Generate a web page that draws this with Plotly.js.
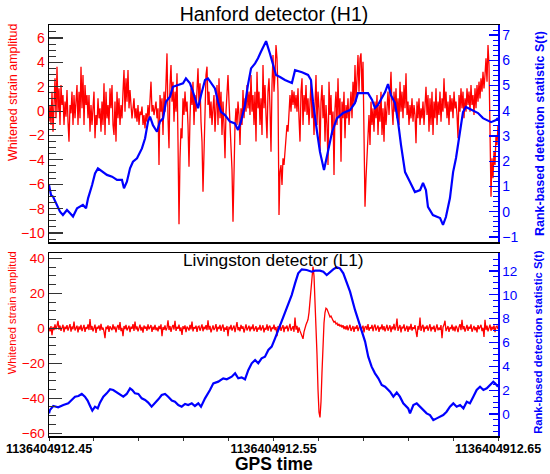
<!DOCTYPE html>
<html>
<head>
<meta charset="utf-8">
<script src="https://cdn.plot.ly/plotly-3.0.1.min.js"></script>
<style>html,body{margin:0;padding:0;background:#fff;}#chart{width:550px;height:474px;}</style>
</head>
<body>
<div id="chart"></div>
<script>
// ---- Data ----
// times are seconds of GPS 1136404912.xxxx (fractional part)
const tStart = 0.45;
const tEnd = 0.65;

// H1 whitened strain, sampled uniformly from tStart to tEnd
const h1Strain = [
-0.86, 0.50, -1.14, 1.60, -1.68, 0.78, 2.69, -0.59, 3.65, -0.04,
1.87, -1.14, 2.14, 0.50, 1.32, -1.14, 0.78, -0.45, 1.73, -0.86,
-2.50, 0.50, -0.18, 1.60, -1.14, 1.32, -0.59, 0.78, 2.14, -1.14,
1.60, -0.59, 3.65, 0.23, 2.96, -1.14, 2.14, 0.50, 1.32, -0.59,
1.32, -1.68, 0.50, -1.14, -0.04, 1.60, -2.23, -0.32, -1.14, 1.05,
-0.59, 0.23, -1.68, 0.78, -1.14, 2.28, -1.96, 1.60, -0.59, 0.50,
-1.14, 1.87, 0.23, 2.14, -1.14, -1.96, 0.78, -2.50, 1.60, -0.59,
1.05, -1.14, 0.50, -0.59, 1.60, 3.37, -0.04, 2.69, 0.78, 3.37,
0.23, 1.73, 0.50, -0.59, 0.23, 1.05, -0.59, 0.23, -0.86, 0.50,
-1.14, -0.04, -0.32, 0.37, -1.14, -0.32, -1.41, -0.18, -0.86, 0.50,
-0.59, 1.60, 2.42, -0.04, 0.50, -0.32, 0.23, 0.78, -0.59, 0.23,
-4.42, 1.32, -0.04,
1.05, -1.96, 1.60, -0.04, 2.96, 4.74, -0.59, -3.05, 2.14, 3.78,
0.78, 2.42, -0.86, 1.60, -0.04, 3.10, -2.50, -9.29, -3.87, -1.41,
-2.23, 1.05, -0.32, 1.60, -0.04, 0.78, -1.14, -4.56, -0.59, 1.87,
0.50, 2.42, -1.14, 1.32, -0.04, 2.69, 3.51, 0.50, 2.28, -0.86,
-2.50, -6.61, -3.33, 1.05, 2.96, 3.65, 0.50, 1.60, -0.59, 0.78,
-1.14, 0.23, 1.32, -1.68, 0.23, 2.14, -1.14, 2.69, -0.59, 1.60,
-1.96, 0.78, -1.14, -3.87, -0.04, 2.14, 2.96, 0.78, -1.14, -2.78,
-4.80, -9.07, -3.60, -1.14, 0.23, -1.14, 0.78, -0.32, -2.78, 0.23,
-1.14, 1.73, -0.59, 1.05, -0.04, 2.14, 0.23, 1.60, -0.32, 2.96,
-0.04, 1.32, -1.14, 1.60, -2.50, 3.24, 0.23, 1.60, -1.14, 1.05,
-1.96, 3.78, 0.23, 2.14, -0.32, -2.23, 1.60, 2.69, 0.23, -3.33,
2.14, 4.60, 1.60,
2.96, 5.43, 4.33, 1.60, -8.52, -4.97, -4.42, -6.06, -3.87, -4.42,
-3.33, -2.23, -1.14, -1.68, 0.50, 1.32, -0.04, 1.73, 0.50, 1.60,
0.23, 1.32, -0.04, 1.87, -0.59, -2.50, 1.60, 2.69, -1.14, 1.32,
-0.04, 2.14, -0.32, 1.05, -1.14, 0.78, 2.42, -0.59, 0.78, -1.96,
1.60, 2.96, -1.14, 1.60, 0.23, -3.33, 0.78, 2.14, -0.59, 1.32,
-2.50, 0.50, -1.14, -4.42, 2.42, -0.32, 1.32, -1.96, -0.04, -5.24,
0.23, 1.60, -1.14, 2.69, -0.59, 1.05, -4.15, 0.78, -0.59, 1.60,
-2.23, 0.50, -0.59, 1.05, -1.14, 0.23, 1.60, -0.59, 2.42, 0.50,
3.78, 0.78, 2.96, 4.60, 1.60, 4.33, 4.74, 1.60, 4.06, -1.14,
-7.84, -5.51, -3.33, -2.23, -0.32, -2.78, 0.78, -1.14, 0.23, -1.68,
0.78, -0.59, 1.32, -1.96, 0.50, -0.86, 1.60, -1.96, 0.23, -2.50,
0.78, -1.14, -0.04,
1.60, -0.32, 2.14, 3.24, 0.23, -1.14, 1.60, -0.04, 1.87, -0.59,
1.05, -1.14, 2.42, -0.04, 1.60, -0.59, 2.14, 0.23, 3.10, -0.32,
0.78, -1.14, 0.50, -0.59, 1.05, -0.86, 0.50, -0.32, -2.64, 0.78,
-0.59, 1.05, -1.14, 0.23, -0.59, 0.78, -1.14, 1.32, 2.00, -0.32,
1.32, -1.68, 1.05, -1.14, 1.60, -1.96, 0.78, -0.59, 1.87, -1.14,
0.78, -0.32, 1.60, -0.86, 1.05, -0.04, 2.69, 0.23, 1.60, -0.59,
0.78, -1.14, 1.32, -0.04, 1.05, -0.59, 1.60, 0.23, 0.78, -0.32,
-2.23, 1.32, -0.04, 1.87, 0.23, 1.60, -0.59, 1.05, -0.04, 1.87,
0.50, 1.60, -0.04, 2.14, 0.50, 1.32, -0.32, 1.87, 0.23, 2.14,
0.78, 2.42, 1.05, 2.69, 1.60, 3.24, 1.87, 2.96, 4.33, 2.42,
5.43, 3.78, -1.14, -7.02, -3.87, -5.51, -3.33, -4.42, -1.96, -2.78,
-1.14
];

// H1 rank-based detection statistic S(t)
const h1StatTime = [
0.4500,0.4509,0.4518,0.4536,0.4549,0.4562,0.4580,0.4594,0.4607,0.4625,
0.4638,0.4651,0.4665,0.4674,0.4692,0.4705,0.4718,0.4736,0.4758,0.4781,
0.4803,0.4825,0.4834,0.4847,0.4861,0.4874,0.4892,0.4914,0.4928,0.4941,
0.4950,0.4963,0.4981,0.4994,0.5008,0.5021,0.5039,0.5052,0.5075,0.5097,
0.5110,0.5128,0.5141,0.5155,0.5164,0.5177,0.5195,0.5208,0.5222,0.5239,
0.5253,0.5266,0.5284,0.5306,0.5328,0.5342,0.5355,0.5373,0.5386,0.5400,
0.5418,0.5431,0.5444,0.5467,0.5484,0.5498,0.5511,0.5529,0.5551,0.5582,
0.5596,0.5627,0.5654,0.5667,0.5676,0.5694,0.5707,0.5725,0.5743,0.5761,
0.5783,0.5810,0.5841,0.5863,0.5876,0.5907,0.5921,0.5939,0.5952,0.5965,
0.5997,0.6010,0.6023,0.6041,0.6055,0.6068,0.6086,0.6108,0.6130,0.6153,
0.6166,0.6179,0.6188,0.6210,0.6242,0.6255,0.6268,0.6286,0.6300,0.6313,
0.6331,0.6344,0.6357,0.6388,0.6411,0.6433,0.6455,0.6469,0.6491,0.6500
];
const h1Stat = [
1.06,0.66,0.60,0.27,0.00,-0.13,0.07,-0.06,-0.19,0.14,
0.20,0.27,0.14,0.53,1.06,1.52,1.72,1.59,1.46,1.39,
1.26,1.26,0.93,1.19,1.72,1.98,2.12,2.51,2.91,3.57,
3.77,3.43,3.17,3.57,3.70,4.36,4.56,4.95,5.02,5.09,
5.28,5.09,4.76,4.29,4.10,4.62,5.22,5.28,5.09,4.89,
4.36,3.96,3.83,3.57,3.50,3.24,3.57,4.23,5.02,5.68,
5.88,6.08,6.34,6.76,6.27,5.81,5.42,5.34,5.22,5.10,
5.61,5.53,5.42,5.22,4.35,3.16,2.37,1.65,2.37,3.16,
3.71,3.91,4.03,4.31,4.70,4.70,4.70,4.43,4.11,4.23,
4.74,5.06,4.62,4.31,3.55,2.64,1.57,1.18,0.78,0.86,
1.14,0.86,0.19,-0.13,-0.25,-0.52,-0.21,0.54,1.57,2.13,
3.16,3.95,4.15,4.03,3.91,3.71,3.63,3.55,3.63,3.71
];

// L1 whitened strain, sampled uniformly from tStart to tEnd
const l1Strain = [
0.5,-1.8,1.2,-4.0,0.8,-1.0,2.2,-0.6,1.4,4.3,
-0.8,1.6,-1.5,0.4,2.0,-2.2,0.9,-0.4,1.8,-1.3,
0.6,2.4,-1.9,1.0,-0.5,3.8,-1.2,0.3,1.5,-2.4,
1.1,-0.7,2.0,-1.6,0.2,1.9,-2.1,0.7,-0.3,2.3,
-1.0,5.3,-0.9,1.3,-1.7,0.5,2.1,-2.6,0.8,-0.2,
1.6,-1.4,2.5,-0.8,0.4,-1.9,-5.6,0.9,-0.5,1.7,
-2.0,1.2,0.3,-1.1,2.2,-0.6,1.0,-2.3,0.6,1.9,
-0.9,3.5,-1.6,0.2,-4.5,1.3,-0.4,2.0,-1.2,0.7,
1.5,-2.2,0.9,-0.3,2.4,-1.5,3.8,-0.7,1.1,-1.8,
0.4,2.1,-1.3,0.8,-2.5,1.6,-0.2,1.0,-1.4,2.2,
-0.6,0.3,1.8,-2.0,0.9,-0.8,2.0,-1.1,0.5,-1.7,
1.4,-0.5,2.3,-4.5,0.7,-0.9,1.6,-1.2,0.2,4.5,
-1.0,1.3,-2.1,0.6,1.9,-0.7,4.3,-1.5,0.8,-0.3,
2.1,-1.6,0.5,-3.8,1.2,-0.4,1.7,-2.2,0.9,0.1,
-1.3,2.0,-0.6,3.8,-1.8,0.7,-0.2,1.5,-2.0,0.8,
1.2,-1.4,0.3,2.2,-1.7,0.9,-0.5,1.8,-1.1,4.6,
-0.8,1.4,-2.3,0.6,1.7,-1.0,0.2,2.4,-1.9,0.8,
-0.4,1.9,-1.5,0.7,2.1,-2.0,0.5,-0.9,1.3,-4.5,
0.9,-0.6,2.0,-1.3,0.4,1.6,-2.2,0.8,3.5,-1.1,
0.6,-1.7,1.9,-0.3,1.1,-2.4,0.7,2.2,-1.2,0.2,
1.5,-1.8,0.9,-0.5,2.3,-1.6,0.6,1.2,-2.1,0.4,
-0.7,2.0,-1.3,0.8,1.7,-2.3,0.3,-0.8,2.2,-1.4,
0.9,1.4,-1.9,0.5,-0.4,2.1,-1.0,0.7,-4.5,1.3,
-0.6,2.3,-1.5,0.4,1.8,-2.2,0.9,-0.2,1.6,-1.8,
0.6,2.5,-1.4,0.3,1.2,-2.0,6.2,-0.8,1.4,-2.6,
0.5,-1.5,-3.0,-4.2,
-6.0,-2.0,1.0,2.0,3.4,5.0,9.0,16.0,26.0,33.0,
35.3,30.0,18.0,2.0,-15.0,-35.0,-48.0,-51.0,-42.0,-25.0,
-8.0,3.0,9.0,11.5,11.0,9.5,8.0,6.5,7.0,5.0,
4.5,3.5,4.0,2.5,3.0,1.5,2.5,1.0,2.0,0.5,
1.8,-0.5,1.2,
-0.8,1.6,-1.2,0.7,2.0,-1.5,0.4,1.3,-2.0,0.9,
-0.3,1.8,-1.6,0.6,2.2,-1.1,0.2,1.5,-2.3,0.8,
1.1,-0.9,2.4,-1.4,0.5,-0.2,1.9,-1.7,0.9,2.1,
-1.3,0.4,1.6,-2.1,0.7,-0.5,2.3,-1.0,1.2,-1.8,
0.6,2.0,-1.4,0.3,1.7,-2.2,1.0,-0.6,2.5,-1.2,
0.8,5.5,-1.5,0.4,1.9,-2.4,0.9,-0.1,2.2,-1.6,
0.5,1.4,-2.0,1.1,-0.7,2.6,-1.3,0.6,-0.4,1.8,
-1.9,-5.0,1.3,-0.8,6.2,-1.5,0.7,2.0,-2.2,0.9,
-0.3,1.7,-1.4,0.5,2.3,-1.8,0.8,-0.6,1.5,-2.1,
1.0,2.2,-1.2,0.4,-0.9,1.8,-5.6,0.6,2.0,4.3,
-1.6,0.7,1.3,-2.0,0.5,-0.4,2.1,-1.3,0.9,-1.7,
1.5,0.2,-2.2,0.8,2.4,-1.1,4.9,-0.6,1.2,-1.9,
0.4,1.9,-1.5,0.9,-0.3,2.2,-2.0,0.6,1.4,-1.2,
0.7,-2.3,1.8,-0.5,1.1,2.0,-1.6,0.3,-5.0,4.9,
-1.0,1.5,-1.8,0.6,2.1,-1.4,0.9,-0.7,1.7,-2.2,
0.8,1.3,-0.4
];

// L1 rank-based detection statistic S(t)
const l1StatTime = [
0.4500,0.4504,0.4519,0.4541,0.4564,0.4586,0.4601,0.4616,0.4631,0.4646,
0.4660,0.4672,0.4683,0.4693,0.4705,0.4717,0.4727,0.4742,0.4757,0.4772,
0.4786,0.4802,0.4816,0.4831,0.4846,0.4861,0.4871,0.4883,0.4898,0.4913,
0.4928,0.4942,0.4957,0.4972,0.4987,0.5002,0.5017,0.5031,0.5047,0.5061,
0.5076,0.5091,0.5106,0.5120,0.5136,0.5150,0.5165,0.5177,0.5195,0.5217,
0.5232,0.5254,0.5276,0.5292,0.5314,0.5329,0.5343,0.5358,0.5373,0.5388,
0.5403,0.5418,0.5432,0.5447,0.5462,0.5477,0.5492,0.5507,0.5521,0.5537,
0.5551,0.5566,0.5581,0.5596,0.5610,0.5626,0.5648,0.5670,0.5685,0.5707,
0.5722,0.5737,0.5752,0.5766,0.5781,0.5796,0.5811,0.5826,0.5841,0.5863,
0.5878,0.5893,0.5908,0.5922,0.5937,0.5952,0.5967,0.5982,0.5997,0.6019,
0.6034,0.6049,0.6063,0.6078,0.6100,0.6108,0.6123,0.6138,0.6153,0.6167,
0.6182,0.6197,0.6212,0.6227,0.6242,0.6256,0.6271,0.6286,0.6301,0.6316,
0.6331,0.6346,0.6361,0.6375,0.6390,0.6405,0.6420,0.6435,0.6450,0.6464,
0.6479,0.6487,0.6500
];
const l1Stat = [
0.05,0.33,0.67,0.56,0.75,0.89,1.17,1.45,1.51,1.68,
1.45,1.12,0.67,0.28,0.61,0.47,0.95,1.45,1.73,2.07,
2.01,1.79,1.59,1.45,1.68,2.15,2.01,1.73,1.68,1.31,
1.17,0.95,0.61,0.89,1.23,1.59,1.68,1.45,1.12,1.03,
0.75,0.61,0.84,0.75,0.89,0.67,0.89,0.61,1.31,2.01,
2.57,2.71,2.99,2.91,3.13,3.41,2.99,3.07,2.91,3.69,
4.25,4.53,4.25,4.67,4.81,5.37,5.65,6.35,7.05,7.75,
8.59,9.28,9.98,10.96,11.80,12.14,12.08,11.94,12.03,12.03,
11.94,11.66,11.94,12.14,12.31,12.22,11.80,11.10,10.26,8.73,
7.89,7.05,6.07,4.81,3.97,3.41,2.99,2.43,2.29,1.87,
1.45,1.79,1.45,0.89,0.47,0.05,0.75,0.89,0.61,0.33,
0.05,-0.09,-0.51,-0.37,-0.23,-0.09,0.19,0.61,0.89,0.61,
0.75,0.47,1.03,0.89,1.45,2.01,2.29,2.01,2.15,2.43,
2.71,2.57,2.29
];

// Axis tick labels
const xTickVals = [0.45,0.47,0.49,0.51,0.53,0.55,0.57,0.59,0.61,0.63,0.65];
const xTickText = ['1136404912.45','','','','','1136404912.55','','','','','1136404912.65'];

// Texts
const titleH1 = 'Hanford detector (H1)';
const titleL1 = 'Livingston detector (L1)';
const leftTitle = 'Whitened strain amplitud';
const rightTitle = 'Rank-based detection statistic S(t)';
const xTitle = 'GPS time';

// ---- Build ----
function sampleTimes(n){
  const out = [];
  for (let i = 0; i < n; i++) out.push(tStart + (tEnd - tStart) * i / (n - 1));
  return out;
}

const FONT = 'Liberation Sans, Arial, Helvetica, sans-serif';
const RED = '#ff0000';
const BLUE = '#0000ff';

const traces = [
  {x: sampleTimes(h1Strain.length), y: h1Strain, xaxis: 'x', yaxis: 'y', mode: 'lines',
   line: {color: RED, width: 1.3}, hoverinfo: 'skip'},
  {x: h1StatTime, y: h1Stat, xaxis: 'x', yaxis: 'y2', mode: 'lines',
   line: {color: BLUE, width: 2.2}, hoverinfo: 'skip'},
  {x: sampleTimes(l1Strain.length), y: l1Strain, xaxis: 'x2', yaxis: 'y3', mode: 'lines',
   line: {color: RED, width: 1.3}, hoverinfo: 'skip'},
  {x: l1StatTime, y: l1Stat, xaxis: 'x2', yaxis: 'y4', mode: 'lines',
   line: {color: BLUE, width: 2.2}, hoverinfo: 'skip'}
];

const leftAxisCommon = {
  showline: true, linecolor: '#000', linewidth: 1.5,
  ticks: 'inside', tickcolor: '#333', tickwidth: 1.2,
  tickmode: 'linear', tick0: 0,
  showgrid: false, zeroline: false,
  tickfont: {family: FONT, color: RED, size: 14}
};
const rightAxisCommon = {
  side: 'right', showline: true, linecolor: BLUE, linewidth: 1.5,
  ticks: 'inside', tickcolor: BLUE, tickwidth: 1.2,
  tickmode: 'linear', tick0: 0,
  showgrid: false, zeroline: false,
  tickfont: {family: FONT, color: BLUE, size: 14}
};

const layout = {
  width: 550, height: 474,
  margin: {l: 49, r: 52, t: 25, b: 38},
  paper_bgcolor: '#fff', plot_bgcolor: '#fff',
  showlegend: false,
  title: {text: titleH1, font: {family: FONT, size: 19.5, color: '#000'},
          x: 0.501, xref: 'paper', xanchor: 'center', y: 0.971, yref: 'container', yanchor: 'middle'},
  xaxis: {domain: [0, 1], anchor: 'y', range: [tStart, tEnd], showline: true, mirror: true,
          linecolor: '#000', linewidth: 1.5, showticklabels: false, ticks: '',
          showgrid: false, zeroline: false},
  yaxis: Object.assign({}, leftAxisCommon, {domain: [0.472, 1], anchor: 'x', range: [-10.74, 7.07],
          dtick: 2, ticklen: 14,
          minor: {ticks: 'inside', ticklen: 7, tickmode: 'linear', tick0: 0, dtick: 0.5, tickcolor: '#333', tickwidth: 1}}),
  yaxis2: Object.assign({}, rightAxisCommon, {overlaying: 'y', anchor: 'x', range: [-1.2, 7.4],
          dtick: 1, ticklen: 9,
          minor: {ticks: 'inside', ticklen: 5, tickmode: 'linear', tick0: 0, dtick: 0.2, tickcolor: BLUE, tickwidth: 1}}),
  xaxis2: {domain: [0, 1], anchor: 'y3', range: [tStart, tEnd], showline: true, mirror: true,
           linecolor: '#000', linewidth: 1.5, ticks: 'outside', ticklen: 3, tickcolor: '#333',
           ticklabelstandoff: -3,
           tickmode: 'array', tickvals: xTickVals, ticktext: xTickText,
           tickfont: {family: FONT, size: 12.5, color: '#000', weight: 'bold'},
           showgrid: false, zeroline: false},
  yaxis3: Object.assign({}, leftAxisCommon, {domain: [0, 0.445], anchor: 'x2', range: [-61.6, 43],
          dtick: 20, ticklen: 13,
          tickfont: {family: FONT, color: RED, size: 13.5},
          minor: {ticks: 'inside', ticklen: 7, tickmode: 'linear', tick0: 0, dtick: 5, tickcolor: '#333', tickwidth: 1}}),
  yaxis4: Object.assign({}, rightAxisCommon, {overlaying: 'y3', anchor: 'x2', range: [-1.85, 13.5],
          dtick: 2, ticklen: 9,
          tickfont: {family: FONT, color: BLUE, size: 13.5},
          minor: {ticks: 'inside', ticklen: 5, tickmode: 'linear', tick0: 0, dtick: 0.5, tickcolor: BLUE, tickwidth: 1}}),
  annotations: [
    {text: titleL1, xref: 'paper', yref: 'paper', x: 0.501, y: 0.428, xanchor: 'center', yanchor: 'middle',
     showarrow: false, font: {family: FONT, size: 17.3, color: '#000'}},
    {text: leftTitle, xref: 'paper', yref: 'paper', x: -0.080, y: 0.837, xanchor: 'center', yanchor: 'middle',
     textangle: -90, showarrow: false, font: {family: FONT, size: 12.5, color: RED}},
    {text: leftTitle, xref: 'paper', yref: 'paper', x: -0.082, y: 0.299, xanchor: 'center', yanchor: 'middle',
     textangle: -90, showarrow: false, font: {family: FONT, size: 11.2, color: RED}},
    {text: '<b>' + rightTitle + '</b>', xref: 'paper', yref: 'paper', x: 1.0935, y: 0.737, xanchor: 'center', yanchor: 'middle',
     textangle: -90, showarrow: false, font: {family: FONT, size: 12.5, color: BLUE}},
    {text: '<b>' + rightTitle + '</b>', xref: 'paper', yref: 'paper', x: 1.089, y: 0.229, xanchor: 'center', yanchor: 'middle',
     textangle: -90, showarrow: false, font: {family: FONT, size: 11.2, color: BLUE}},
    {text: '<b>' + xTitle + '</b>', xref: 'paper', yref: 'paper', x: 0.5, y: -0.068, xanchor: 'center', yanchor: 'middle',
     showarrow: false, font: {family: FONT, size: 17.5, color: '#000'}}
  ]
};

Plotly.newPlot('chart', traces, layout, {displayModeBar: false, staticPlot: true});
</script>
</body>
</html>
